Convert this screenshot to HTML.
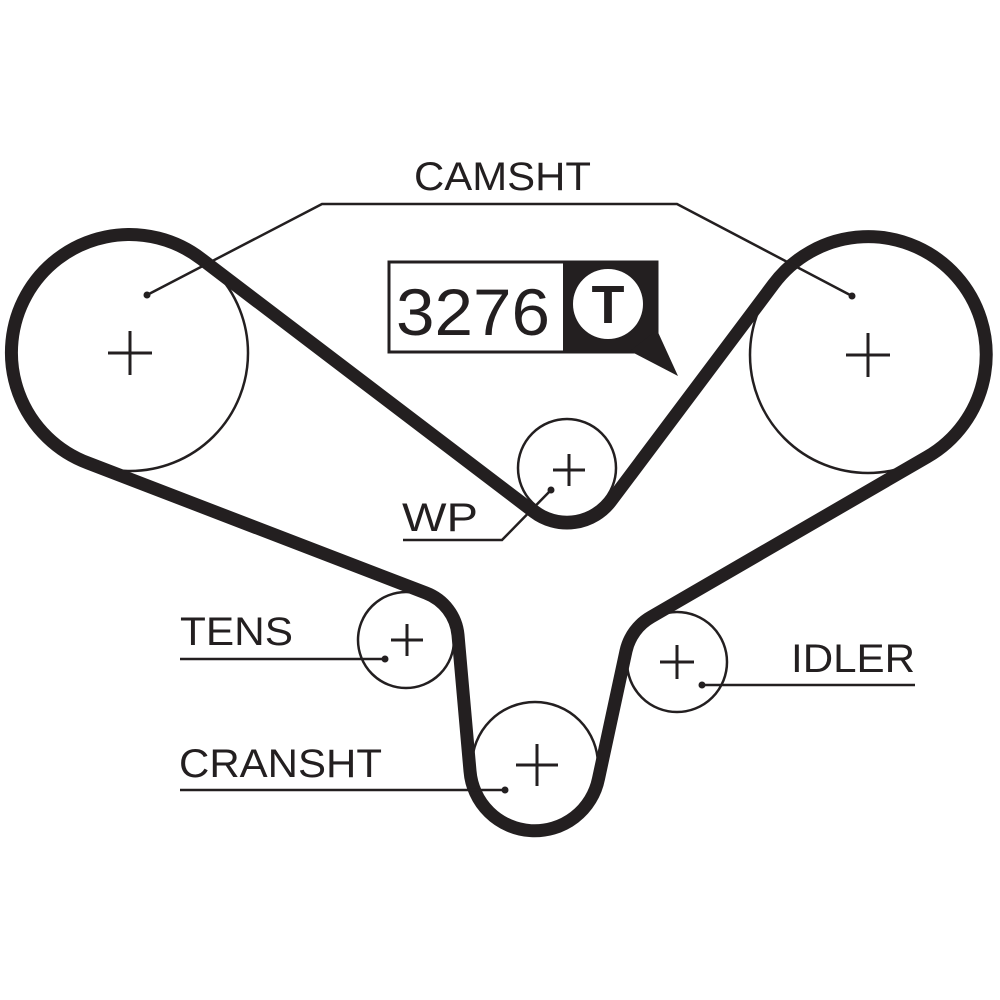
<!DOCTYPE html>
<html><head><meta charset="utf-8"><style>html,body{margin:0;padding:0;background:#fff}svg{display:block}</style></head>
<body>
<svg width="1000" height="1000" viewBox="0 0 1000 1000" xmlns="http://www.w3.org/2000/svg">
<rect width="1000" height="1000" fill="#fff"/>
<g fill="none" stroke="#231f20" stroke-width="2.5">
<circle cx="130" cy="353" r="118"/>
<circle cx="868" cy="355" r="118"/>
<circle cx="567" cy="468" r="49"/>
<circle cx="406" cy="640" r="48"/>
<circle cx="535" cy="765" r="63"/>
<circle cx="677" cy="662" r="50"/>
</g>
<path d="M201.4,259 A118,118 0 1 0 88,463 L426,593 A50,50 0 0 1 458,635 L470,771 A65,65 0 0 0 598.5,778.7 L626,651 A52,52 0 0 1 651,617 L927,457 A118,118 0 1 0 773.5,284.3 L611,501 A55,55 0 0 1 533.7,511.8 Z" fill="none" stroke="#231f20" stroke-width="13" stroke-linejoin="round"/>
<g stroke="#231f20" stroke-width="3" fill="none">
<path d="M108,353h44M130,331v44"/>
<path d="M846,355h44M868,333v44"/>
<path d="M553,470h32M569,454v32"/>
<path d="M391,640h32M407,624v32"/>
<path d="M516,765h42M537,744v42"/>
<path d="M660,662h34M677,645v34"/>
</g>
<g stroke="#231f20" stroke-width="2.5" fill="none">
<polyline points="147,295 322,204 677,204 852,296"/>
<polyline points="403,540 502,540 551,490"/>
<line x1="180" y1="659" x2="385" y2="659"/>
<line x1="180" y1="790" x2="505" y2="790"/>
<line x1="702" y1="685" x2="915" y2="685"/>
</g>
<g fill="#231f20">
<circle cx="147" cy="295" r="3.5"/><circle cx="852" cy="296" r="3.5"/>
<circle cx="551" cy="490" r="3.5"/><circle cx="385" cy="659" r="3.5"/>
<circle cx="505" cy="790" r="3.5"/><circle cx="702" cy="685" r="3.5"/>
</g>
<rect x="389" y="262" width="268" height="90" fill="#fff" stroke="#231f20" stroke-width="3"/>
<rect x="563" y="262" width="94" height="90" fill="#231f20"/>
<polygon points="630,351 657,330 678,376" fill="#231f20"/>
<circle cx="608" cy="304" r="35" fill="#fff"/>
<text x="608" y="323" text-anchor="middle" font-family="Liberation Sans, sans-serif" font-weight="bold" font-size="54" fill="#231f20">T</text>
<text x="396" y="335" font-family="Liberation Sans, sans-serif" font-size="66" textLength="154" lengthAdjust="spacingAndGlyphs" fill="#231f20">3276</text>
<g font-family="Liberation Sans, sans-serif" font-size="40" fill="#231f20" lengthAdjust="spacingAndGlyphs">
<text x="414" y="190" textLength="177" lengthAdjust="spacingAndGlyphs">CAMSHT</text>
<text x="402" y="531" textLength="76" lengthAdjust="spacingAndGlyphs">WP</text>
<text x="180" y="645" textLength="113" lengthAdjust="spacingAndGlyphs">TENS</text>
<text x="179" y="777" textLength="203" lengthAdjust="spacingAndGlyphs">CRANSHT</text>
<text x="791" y="672" textLength="124" lengthAdjust="spacingAndGlyphs">IDLER</text>
</g>
</svg>
</body></html>
